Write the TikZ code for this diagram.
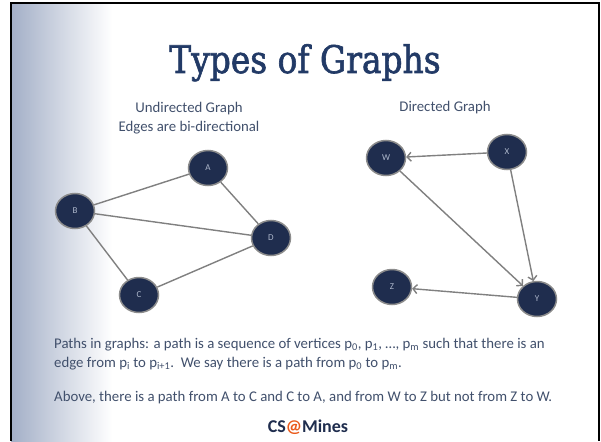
\documentclass[tikz,border=0pt]{standalone}
\usepackage{fontspec}
\setmainfont{Carlito}
\newfontfamily\titlefont[FakeStretch=0.865,FakeBold=1.6]{DejaVu Serif}
\usetikzlibrary{arrows.meta,shapes.geometric}
\definecolor{navy}{HTML}{1F2D4E}
\definecolor{titleblue}{HTML}{223A66}
\definecolor{textblue}{HTML}{41506C}
\definecolor{edgegray}{HTML}{808080}
\definecolor{ringgray}{HTML}{8C8C8C}
\definecolor{labelgray}{HTML}{AEB8CC}
\definecolor{gradleft}{HTML}{A3AFC7}
\definecolor{minesorange}{HTML}{EA5B1C}
\begin{document}
\begin{tikzpicture}[x=1pt,y=-1pt,
  vertex/.style={ellipse, fill=navy, draw=ringgray, line width=1.5pt,
    minimum width=39pt, minimum height=35pt, inner sep=0pt,
    text=labelgray, font=\fontsize{9}{10}\selectfont},
  uedge/.style={draw=edgegray, line width=1.4pt},
  dedge/.style={draw=edgegray, line width=1.4pt,
    -{Straight Barb[length=4pt,width=9pt,line width=1.4pt]}},
  caption/.style={text=textblue, font=\fontsize{14.8}{17}\selectfont, inner sep=0pt},
  bodytext/.style={text=textblue, font=\fontsize{14.8}{17}\selectfont, inner sep=0pt, anchor=base west}
]
\useasboundingbox (0,0) rectangle (601,441);
\fill[white] (0,0) rectangle (601,441);
\shade[left color=gradleft, right color=white] (11,3) rectangle (112,441);
\draw[black, line width=2pt] (11,441) -- (11,3) -- (599,3) -- (599,441);

\node[text=titleblue, font=\titlefont\fontsize{38}{42}\selectfont, inner sep=0pt, anchor=base]
  (title) at (305,73) {Types of Graphs};

\node[caption, anchor=base] (ucap1) at (189,112) {Undirected Graph};
\node[caption, anchor=base] (ucap2) at (189,131) {Edges are bi-directional};
\node[caption, anchor=base] (dcap) at (445,111) {Directed Graph};

\node[vertex] (A) at (208,168) {A};
\node[vertex] (B) at (75,211) {B};
\node[vertex] (C) at (139,295) {C};
\node[vertex] (D) at (271,238) {D};

\node[vertex] (W) at (386,158) {W};
\node[vertex] (X) at (507,152) {X};
\node[vertex] (Z) at (392,287) {Z};
\node[vertex] (Y) at (537,299) {Y};

\draw[uedge] (B) -- (A);
\draw[uedge] (A) -- (D);
\draw[uedge] (B) -- (D);
\draw[uedge] (B) -- (C);
\draw[uedge] (C) -- (D);

\draw[dedge] (X) -- (W);
\draw[dedge] (W) -- (Y);
\draw[dedge] (X) -- (Y);
\draw[dedge] (Y) -- (Z);

\node[bodytext] (l1) at (54,348) {Paths in graphs: a path is a sequence of vertices p\textsubscript{0}, p\textsubscript{1}, \dots, p\textsubscript{m} such that there is an};
\node[bodytext] (l2) at (54,367) {edge from p\textsubscript{i} to p\textsubscript{i+1}.\ \ We say there is a path from p\textsubscript{0} to p\textsubscript{m}.};
\node[bodytext] (l3) at (54,401) {Above, there is a path from A to C and C to A, and from W to Z but not from Z to W.};

\node[font=\bfseries\fontsize{18}{20}\selectfont, text=navy, inner sep=0pt, anchor=base]
  (mines) at (308,432) {CS\textcolor{minesorange}{@}Mines};
\end{tikzpicture}
\end{document}
